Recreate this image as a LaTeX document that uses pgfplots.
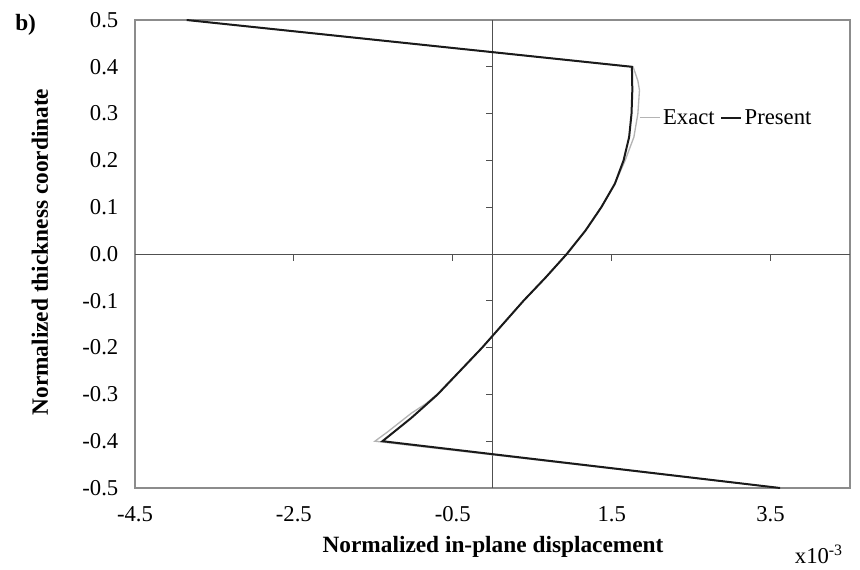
\documentclass[border=0pt]{standalone}
\usepackage{pgfplots}
\pgfplotsset{compat=1.18}
\usepackage{pgfplotstable}
\usepackage{fontspec}
\setmainfont{Liberation Serif}

\definecolor{framegray}{HTML}{8C8C8C}
\definecolor{zerogray}{HTML}{505050}
\definecolor{exactgray}{HTML}{B4B4B4}
\definecolor{presentblack}{HTML}{1A1A1A}

% Through-thickness profiles: y = normalized thickness coordinate,
% x = normalized in-plane displacement (x 10^-3)
\pgfplotstableread{
y      x
0.50  -3.85
0.40   1.77
0.37   1.83
0.35   1.85
0.30   1.83
0.25   1.78
0.20   1.67
0.15   1.54
0.10   1.37
0.05   1.17
0.00   0.935
-0.05  0.67
-0.10  0.39
-0.15  0.13
-0.20 -0.13
-0.25 -0.41
-0.30 -0.70
-0.32 -0.84
-0.34 -1.02
-0.36 -1.17
-0.38 -1.32
-0.40 -1.48
-0.50  3.62
}\exacttab

\pgfplotstableread{
y      x
0.50  -3.85
0.40   1.755
0.35   1.76
0.30   1.75
0.25   1.72
0.20   1.65
0.15   1.54
0.10   1.37
0.05   1.17
0.00   0.935
-0.05  0.67
-0.10  0.39
-0.15  0.13
-0.20 -0.13
-0.25 -0.41
-0.30 -0.69
-0.35 -1.02
-0.40 -1.385
-0.50  3.62
}\presenttab

\newcommand{\tickfont}{\fontsize{17}{19}\selectfont}
\newcommand{\labfont}{\fontsize{17.5}{19}\selectfont\bfseries}

\begin{document}
\begin{tikzpicture}[x=1pt,y=1pt]
\useasboundingbox (0,0) rectangle (645,426.75);
\begin{axis}[
  at={(101.25pt,60.75pt)}, anchor=south west,
  scale only axis, width=536.25pt, height=351pt,
  xmin=-4.5, xmax=4.5, ymin=-0.5, ymax=0.5,
  xtick={-4.5,-2.5,-0.5,1.5,3.5},
  ytick={-0.5,-0.4,-0.3,-0.2,-0.1,0,0.1,0.2,0.3,0.4,0.5},
  major tick length=0pt,
  axis line style={framegray, line width=0.9pt},
  /pgf/number format/assume math mode=true,
  /pgf/number format/fixed, /pgf/number format/fixed zerofill,
  /pgf/number format/precision=1,
  tick label style={font=\tickfont, text=black},
  yticklabel style={xshift=-9pt},
  xticklabel style={yshift=-10.5pt},
  legend style={at={(0.705,0.791)}, anchor=west, draw=none, fill=none,
    font=\tickfont, inner sep=0pt, outer sep=0pt,
    /tikz/every even column/.append style={column sep=2pt}},
  legend columns=2,
  legend image code/.code={\draw[#1] (0pt,0pt) -- (15pt,0pt);},
  clip=false,
]
  % center lines through the origin
  \draw[zerogray, line width=0.6pt] (axis cs:0,-0.5) -- (axis cs:0,0.5);
  \draw[zerogray, line width=0.6pt] (axis cs:-4.5,0) -- (axis cs:4.5,0);
  \pgfplotsinvokeforeach{-0.4,-0.3,-0.2,-0.1,0.1,0.2,0.3,0.4}{
    \draw[zerogray, line width=0.6pt] (axis cs:0,#1) -- ++(-5pt,0pt);
  }
  \pgfplotsinvokeforeach{-2.5,-0.5,1.5,3.5}{
    \draw[zerogray, line width=0.6pt] (axis cs:#1,0) -- ++(0pt,-5pt);
  }
  \addplot[exactgray, line width=1pt] table[x=x, y=y] {\exacttab};
  \addlegendentry{Exact}
  \addplot[presentblack, line width=1.5pt] table[x=x, y=y] {\presenttab};
  \addlegendentry{Present}
\end{axis}
\node[font=\labfont] at (369.75,16.5) {Normalized in-plane displacement};
\node[font=\labfont, rotate=90] at (30,237.75) {Normalized thickness coordinate};
\node[font=\labfont, anchor=west, inner sep=0pt] at (11.25,408) {b)};
\node[font=\tickfont, anchor=base west, inner sep=0pt] at (596,4) {x10\textsuperscript{-3}};
\end{tikzpicture}
\end{document}
